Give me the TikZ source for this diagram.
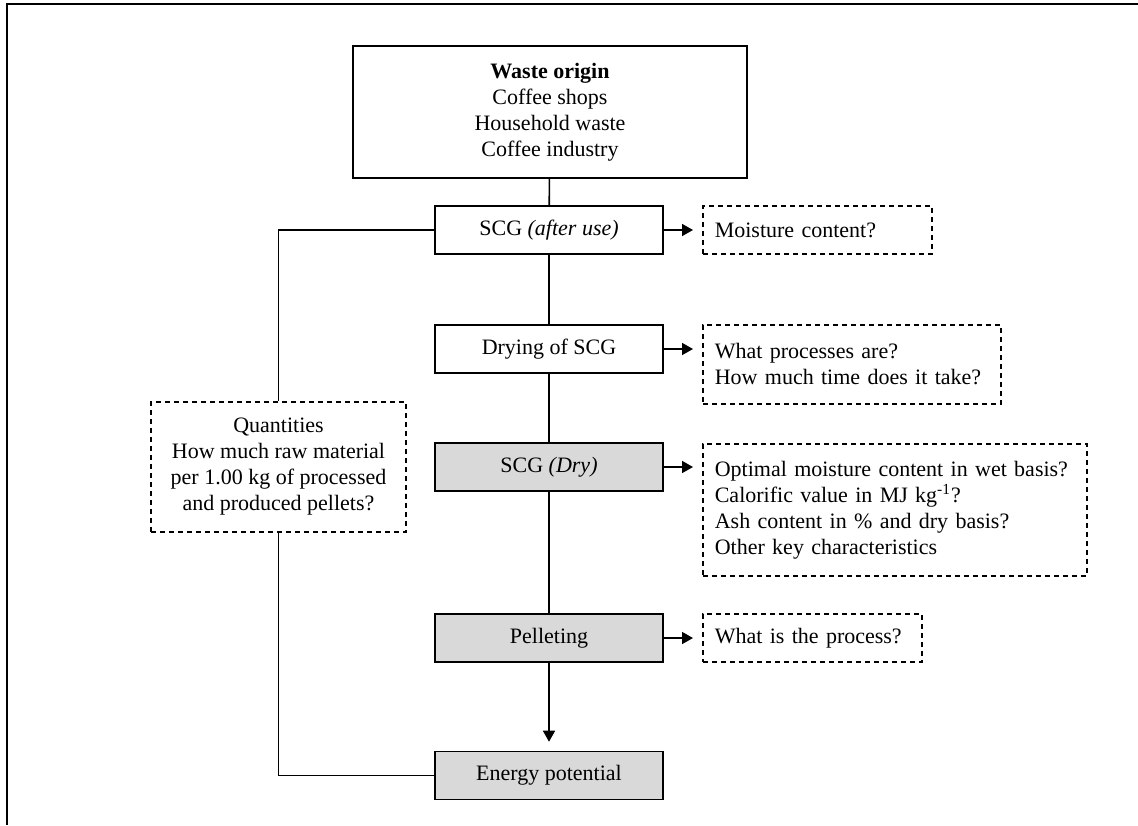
\documentclass[tikz,border=0pt]{standalone}
\usepackage{fontspec}
\setmainfont{Liberation Serif}
\usetikzlibrary{arrows.meta}
\definecolor{boxgray}{RGB}{217,217,217}
\begin{document}
\begin{tikzpicture}[x=0.5pt,y=-0.5pt,font=\fontsize{11}{13}\selectfont,
  stage/.style={draw,fill=#1,line width=.8pt,minimum width=114pt,minimum height=24pt,inner sep=0pt,align=center},
  stage/.default=white,
  dashbox/.style={draw,line width=.8pt,dash pattern=on 2.5pt off 2pt},
  question/.style={dashbox,anchor=west,align=left,inner xsep=6pt,inner ysep=0pt,text width=#1},
  link/.style={line width=.8pt},
  flow/.style={link,-{Triangle[length=5.5pt,width=6pt]},shorten >=4.5pt}]
\useasboundingbox (0,0) rectangle (1138,825);
\draw[link] (7,825) -- (7,4) -- (1138,4);
\node[stage,minimum width=197pt,minimum height=66pt] (origin) at (550,112) {\textbf{Waste origin}\\Coffee shops\\Household waste\\Coffee industry};
\node[stage] (used) at (549,230) {SCG \textit{(after use)}};
\node[stage] (drying) at (549,349) {Drying of SCG};
\node[stage=boxgray] (dry) at (549,467) {SCG \textit{(Dry)}};
\node[stage=boxgray] (pellet) at (549,638) {Pelleting};
\node[stage=boxgray] (energy) at (549,775.5) {Energy potential};
\node[question=102.5pt,minimum height=24pt] (qmoist) at (702,230) {Moisture content?};
\node[question=137pt,minimum height=39.5pt] (qproc) at (702,364.5) {What processes are?\\How much time does it take?};
\node[question=180pt,minimum height=66pt] (qchar) at (702,510) {Optimal moisture content in wet basis?\\Calorific value in MJ kg\textsuperscript{-1}?\\Ash content in \% and dry basis?\\Other key characteristics};
\node[question=97.5pt,minimum height=24pt] (qpellet) at (702,638) {What is the process?};
\node[dashbox,align=center,minimum width=127.5pt,minimum height=65pt,inner sep=0pt] (qty) at (278.5,467) {Quantities\\How much raw material\\per 1.00 kg of processed\\and produced pellets?};
\draw[link] (origin) -- (used) -- (drying) -- (dry) -- (pellet);
\draw[flow] (pellet) -- (energy);
\draw[flow] (used) -- (qmoist);
\draw[flow] (drying) -- (drying -| qproc.west);
\draw[flow] (dry) -- (dry -| qchar.west);
\draw[flow] (pellet) -- (qpellet);
\draw[link] (used.west) -| (qty.north);
\draw[link] (qty.south) |- (energy.west);
\end{tikzpicture}
\end{document}
